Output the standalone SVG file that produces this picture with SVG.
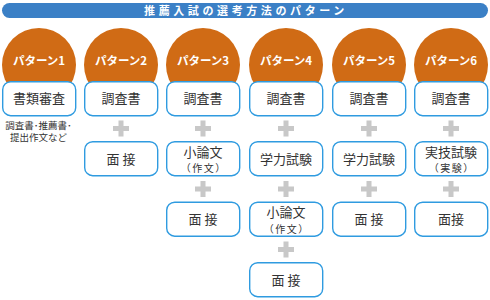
<svg xmlns="http://www.w3.org/2000/svg" width="490" height="300" viewBox="0 0 490 300">
<defs>
<style>
.bar{fill:#3b80c6}
.title{font-family:"Noto Sans CJK JP",sans-serif;font-size:11px;font-weight:bold;fill:#fff;letter-spacing:3.6px}
.circ{fill:#d06b15}
.ctext{font-family:"Noto Sans CJK JP",sans-serif;font-size:11.5px;font-weight:bold;fill:#fff;text-anchor:middle}
.box{fill:#fff;stroke:#2f9be0;stroke-width:1.4}
.t{font-family:"Noto Sans CJK JP",sans-serif;font-size:13px;fill:#333;text-anchor:middle}
.ts{font-family:"Noto Sans CJK JP",sans-serif;font-size:10px;fill:#333;text-anchor:middle;letter-spacing:1.5px}
.note{font-family:"Noto Sans CJK JP",sans-serif;font-size:9.5px;fill:#333;text-anchor:middle}
.plus{fill:#c8c8c8}
</style>
<g id="p"><rect x="-2.5" y="-8" width="5" height="16"/><rect x="-8" y="-2.5" width="16" height="5"/></g>
</defs>
<rect width="490" height="300" fill="#fff"/>
<g id="title">
<rect class="bar" x="2" y="3" width="486" height="15" rx="7.5"/>
<text class="title" x="246" y="14.8" text-anchor="middle">推薦入試の選考方法のパターン</text>
</g>
<g id="connectors" class="plus">
<use href="#p" x="121" y="128.5"/>
<use href="#p" x="203" y="128.5"/>
<use href="#p" x="203" y="189"/>
<use href="#p" x="286" y="128.5"/>
<use href="#p" x="286" y="189"/>
<use href="#p" x="286" y="249.5"/>
<use href="#p" x="369" y="128.5"/>
<use href="#p" x="369" y="189"/>
<use href="#p" x="451" y="128.5"/>
<use href="#p" x="451" y="189"/>
</g>
<g id="pattern1">
<circle class="circ" cx="39" cy="65" r="37"/>
<text class="ctext" x="39" y="64.5">パターン1</text>
<rect class="box" x="2.7" y="81.7" width="73" height="34" rx="8"/>
<text class="t" x="39" y="103">書類審査</text>
<text class="note" x="38.5" y="128.5">調査書･推薦書･</text>
<text class="note" x="38.5" y="141">提出作文など</text>
</g>
<g id="pattern2">
<circle class="circ" cx="121" cy="65" r="37"/>
<text class="ctext" x="121" y="64.5">パターン2</text>
<rect class="box" x="84.7" y="81.7" width="73" height="34" rx="8"/>
<text class="t" x="121" y="103">調査書</text>
<rect class="box" x="84.7" y="141.7" width="73" height="34" rx="8"/>
<text class="t" x="121" y="163.5">面 接</text>
</g>
<g id="pattern3">
<circle class="circ" cx="203" cy="65" r="37"/>
<text class="ctext" x="203" y="64.5">パターン3</text>
<rect class="box" x="166.7" y="81.7" width="73" height="34" rx="8"/>
<text class="t" x="203" y="103">調査書</text>
<rect class="box" x="166.7" y="141.7" width="73" height="34" rx="8"/>
<text class="t" x="203" y="156.5">小論文</text>
<text class="ts" x="203.7" y="172">（作文）</text>
<rect class="box" x="166.7" y="202.2" width="73" height="34" rx="8"/>
<text class="t" x="203" y="224">面 接</text>
</g>
<g id="pattern4">
<circle class="circ" cx="286" cy="65" r="37"/>
<text class="ctext" x="286" y="64.5">パターン4</text>
<rect class="box" x="249.7" y="81.7" width="73" height="34" rx="8"/>
<text class="t" x="286" y="103">調査書</text>
<rect class="box" x="249.7" y="141.7" width="73" height="34" rx="8"/>
<text class="t" x="286" y="163.5">学力試験</text>
<rect class="box" x="249.7" y="202.2" width="73" height="34" rx="8"/>
<text class="t" x="286" y="217">小論文</text>
<text class="ts" x="286.7" y="232.5">（作文）</text>
<rect class="box" x="249.7" y="262.7" width="73" height="34" rx="8"/>
<text class="t" x="286" y="284.5">面 接</text>
</g>
<g id="pattern5">
<circle class="circ" cx="369" cy="65" r="37"/>
<text class="ctext" x="369" y="64.5">パターン5</text>
<rect class="box" x="332.7" y="81.7" width="73" height="34" rx="8"/>
<text class="t" x="369" y="103">調査書</text>
<rect class="box" x="332.7" y="141.7" width="73" height="34" rx="8"/>
<text class="t" x="369" y="163.5">学力試験</text>
<rect class="box" x="332.7" y="202.2" width="73" height="34" rx="8"/>
<text class="t" x="369" y="224">面 接</text>
</g>
<g id="pattern6">
<circle class="circ" cx="451" cy="65" r="37"/>
<text class="ctext" x="451" y="64.5">パターン6</text>
<rect class="box" x="414.7" y="81.7" width="73" height="34" rx="8"/>
<text class="t" x="451" y="103">調査書</text>
<rect class="box" x="414.7" y="141.7" width="73" height="34" rx="8"/>
<text class="t" x="451" y="156.5">実技試験</text>
<text class="ts" x="451.7" y="172">（実験）</text>
<rect class="box" x="414.7" y="202.2" width="73" height="34" rx="8"/>
<text class="t" x="451" y="224">面接</text>
</g>
</svg>
